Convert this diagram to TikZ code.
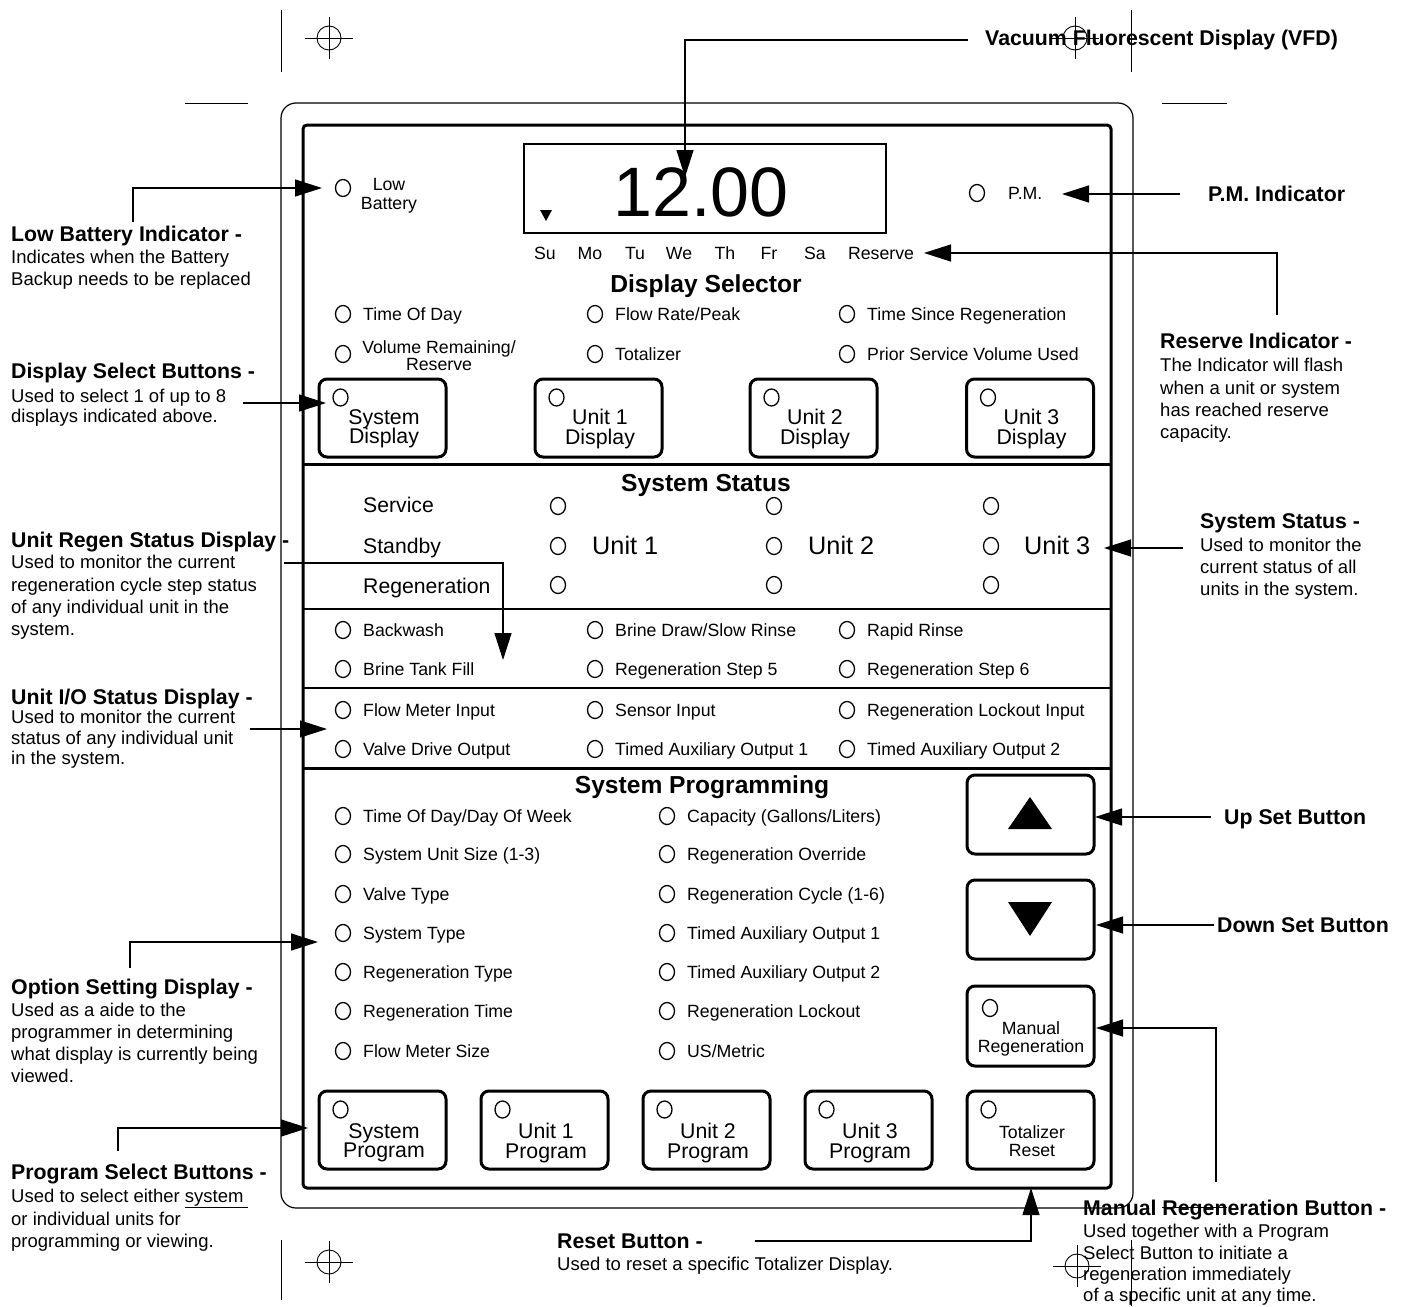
\documentclass[tikz,border=0pt]{standalone}
\usepackage{fontspec}
\setmainfont{Liberation Sans}
\usetikzlibrary{arrows.meta,shapes.geometric}
\newcommand\fsz[2]{\fontsize{#1pt}{#2pt}\selectfont}
\newcommand\pitem[4]{\node[led] (#1) at (#2,#3) {}; \node[ptxt] (#1t) at (#2+20,#3) {#4};}
\newcommand\pbtn[6]{% name, cx, cy, text top, text, text style
  \node[btn] (#1) at (#2,#3) {};
  \node[led] (#1l) at ([xshift=23pt,yshift=-20pt]#1.north west) {};
  \node[#6] (#1t) at (#2+1.5,#4) {#5};}
\lineskiplimit=-100pt
\begin{document}
\begin{tikzpicture}[x=1pt,y=-1pt,
  every node/.style={inner sep=0pt},
  led/.style={draw,ellipse,minimum width=15pt,minimum height=17pt,line width=1.3pt},
  ptxt/.style={font=\fsz{17.7}{21},anchor=west,text height=12.7pt,text depth=0pt},
  ctxt/.style={font=\fsz{17.7}{21},text height=12.7pt,text depth=0pt},
  sec/.style={font=\bfseries\fsz{24.6}{28},text height=17.6pt,text depth=0pt},
  stl/.style={font=\fsz{21.2}{24},anchor=west,text height=15.2pt,text depth=0pt},
  unit/.style={font=\fsz{25.3}{28},anchor=west,text height=18.1pt,text depth=0pt},
  btn/.style={draw,line width=3pt,rounded corners=8pt,minimum width=127pt,minimum height=78pt},
  btxt/.style={font=\fsz{21.3}{19.5},anchor=north,align=center},
  stxt/.style={font=\fsz{17.7}{18},anchor=north,align=center},
  hd/.style={font=\bfseries\fsz{21.3}{24},anchor=west,text height=15.3pt,text depth=0pt},
  ds/.style={font=\fsz{18.5}{22},anchor=north west,align=left},
  conn/.style={line width=1.3pt,-{Triangle[length=27pt,width=17pt]}},
  crop/.style={line width=0.9pt},
]
\useasboundingbox (0,0) rectangle (1404,1306);
\fill[white] (0,0) rectangle (1404,1306);

% outer case and panel
\draw[line width=1.2pt,rounded corners=15pt] (281,103) rectangle (1133,1208);
\draw[line width=3pt,rounded corners=4pt] (303,125) rectangle (1111,1188);
\draw[line width=3pt] (303,464) -- (1111,464);
\draw[line width=1.5pt] (303,609) -- (1111,609);
\draw[line width=1.5pt] (303,688) -- (1111,688);
\draw[line width=3pt] (303,768) -- (1111,768);

% VFD
\node[draw,line width=2pt,minimum width=362pt,minimum height=89pt] (vfd) at (705,188.5) {};
\node[font=\fsz{70}{70},text height=50pt,text depth=0pt] (digits) at (701,191) {12.00};
\fill (540,210) -- (552,210) -- (546,221) -- cycle;
\node[led] (lb) at (343,188) {};
\node[stxt,font=\fsz{17.7}{19}] (lbt) at (389,178.5) {Low\\Battery};
\node[led] (pm) at (977,193) {};
\node[ptxt] (pmt) at (1008,193) {P.M.};
\foreach \d/\x [count=\i] in {Su/545,Mo/590,Tu/635,We/679,Th/725,Fr/769,Sa/815,Reserve/881}
  \node[ctxt] (day\i) at (\x,253) {\d};

% Display selector
\node[sec] (dsel) at (706,284) {Display Selector};
\pitem{tod}{343}{314}{Time Of Day}
\pitem{frp}{595}{314}{Flow Rate/Peak}
\pitem{tsr}{847}{314}{Time Since Regeneration}
\node[led] (vrr) at (343,354) {};
\node[stxt,font=\fsz{17.7}{17}] (vrrt) at (439,340.5) {Volume Remaining/\\Reserve};
\pitem{tot}{595}{354}{Totalizer}
\pitem{psv}{847}{354}{Prior Service Volume Used}
\pbtn{bsd}{382.5}{418}{409.1}{System\\Display}{btxt}
\pbtn{bu1d}{598.5}{418}{409.1}{Unit 1\\Display}{btxt}
\pbtn{bu2d}{813.5}{418}{409.1}{Unit 2\\Display}{btxt}
\pbtn{bu3d}{1030}{418}{409.1}{Unit 3\\Display}{btxt}

% System status
\node[sec] (sstat) at (706,483) {System Status};
\node[stl] (svc) at (363,505) {Service};
\node[stl] (stb) at (363,546) {Standby};
\node[stl] (rgn) at (363,586) {Regeneration};
\foreach \x [count=\u] in {558,774,991}{
  \node[led] (sv\u) at (\x,506) {};
  \node[led] (sb\u) at (\x,546) {};
  \node[led] (rg\u) at (\x,585) {};
}
\node[unit] (un1) at (592,545) {Unit 1};
\node[unit] (un2) at (808,545) {Unit 2};
\node[unit] (un3) at (1024,545) {Unit 3};
\pitem{bw}{343}{630}{Backwash}
\pitem{bd}{595}{630}{Brine Draw/Slow Rinse}
\pitem{rr}{847}{630}{Rapid Rinse}
\pitem{btf}{343}{669}{Brine Tank Fill}
\pitem{rs5}{595}{669}{Regeneration Step 5}
\pitem{rs6}{847}{669}{Regeneration Step 6}
\pitem{fmi}{343}{710}{Flow Meter Input}
\pitem{si}{595}{710}{Sensor Input}
\pitem{rli}{847}{710}{Regeneration Lockout Input}
\pitem{vdo}{343}{749}{Valve Drive Output}
\pitem{ta1}{595}{749}{Timed Auxiliary Output 1}
\pitem{ta2}{847}{749}{Timed Auxiliary Output 2}

% System programming
\node[sec] (sprog) at (702,785) {System Programming};
\pitem{p1}{343}{816}{Time Of Day/Day Of Week}
\pitem{p2}{343}{854}{System Unit Size (1-3)}
\pitem{p3}{343}{894}{Valve Type}
\pitem{p4}{343}{933}{System Type}
\pitem{p5}{343}{972}{Regeneration Type}
\pitem{p6}{343}{1011}{Regeneration Time}
\pitem{p7}{343}{1051}{Flow Meter Size}
\pitem{q1}{667}{816}{Capacity (Gallons/Liters)}
\pitem{q2}{667}{854}{Regeneration Override}
\pitem{q3}{667}{894}{Regeneration Cycle (1-6)}
\pitem{q4}{667}{933}{Timed Auxiliary Output 1}
\pitem{q5}{667}{972}{Timed Auxiliary Output 2}
\pitem{q6}{667}{1011}{Regeneration Lockout}
\pitem{q7}{667}{1051}{US/Metric}
\node[btn,minimum height=79pt] (up) at (1030.5,814.5) {};
\fill (1030,797) -- (1052,829) -- (1008,829) -- cycle;
\node[btn,minimum height=79pt] (down) at (1030.5,919.5) {};
\fill (1008,902) -- (1052,902) -- (1030,936) -- cycle;
\node[btn,minimum height=80pt] (man) at (1030.5,1026) {};
\node[led] (manl) at (990,1008) {};
\node[stxt] (mant) at (1031,1021.5) {Manual\\Regeneration};
\pbtn{bsp}{382.5}{1130}{1123.1}{System\\Program}{btxt}
\pbtn{bu1p}{544.5}{1130}{1123.1}{Unit 1\\Program}{btxt}
\pbtn{bu2p}{706.5}{1130}{1123.1}{Unit 2\\Program}{btxt}
\pbtn{bu3p}{868.5}{1130}{1123.1}{Unit 3\\Program}{btxt}
\pbtn{btr}{1030.5}{1130}{1125.3}{Totalizer\\Reset}{stxt}

% left annotations
\node[hd] (h1) at (11,234) {Low Battery Indicator -};
\node[ds] (d1) at (11,250.2) {Indicates when the Battery\\Backup needs to be replaced};
\node[hd] (h2) at (11,371) {Display Select Buttons -};
\node[ds,font=\fsz{18.5}{20}] (d2) at (11,389.2) {Used to select 1 of up to 8\\displays indicated above.};
\node[hd] (h3) at (11,540) {Unit Regen Status Display -};
\node[ds,font=\fsz{18.5}{22.3}] (d3) at (11,555.2) {Used to monitor the current\\regeneration cycle step status\\of any individual unit in the\\system.};
\node[hd] (h4) at (11,697) {Unit I/O Status Display -};
\node[ds,font=\fsz{18.5}{20.5}] (d4) at (11,710.2) {Used to monitor the current\\status of any individual unit\\in the system.};
\node[hd] (h5) at (11,987) {Option Setting Display -};
\node[ds] (d5) at (11,1003.2) {Used as a aide to the\\programmer in determining\\what display is currently being\\viewed.};
\node[hd] (h6) at (11,1172) {Program Select Buttons -};
\node[ds,font=\fsz{18.5}{22.5}] (d6) at (11,1189.2) {Used to select either system\\or individual units for\\programming or viewing.};

% right annotations
\node[hd] (h7) at (985,38) {Vacuum Fluorescent Display (VFD)};
\node[hd] (h8) at (1208,194) {P.M. Indicator};
\node[hd] (h9) at (1160,341) {Reserve Indicator -};
\node[ds,font=\fsz{18.5}{22.3}] (d9) at (1160,358.2) {The Indicator will flash\\when a unit or system\\has reached reserve\\capacity.};
\node[hd] (h10) at (1200,521) {System Status -};
\node[ds] (d10) at (1200,538.2) {Used to monitor the\\current status of all\\units in the system.};
\node[hd] (h11) at (1224,817) {Up Set Button};
\node[hd] (h12) at (1217,925) {Down Set Button};
\node[hd] (h13) at (1083,1208) {Manual Regeneration Button -};
\node[ds,font=\fsz{18.5}{21.3}] (d13) at (1083,1224.2) {Used together with a Program\\Select Button to initiate a\\regeneration immediately\\of a specific unit at any time.};
\node[hd] (h14) at (557,1241) {Reset Button -};
\node[ds] (d14) at (557,1257.2) {Used to reset a specific Totalizer Display.};

% connector end points
\coordinate (a1) at (133,222);  \coordinate (t1) at (322,188);
\coordinate (a2) at (243,403);  \coordinate (t2) at (326,403);
\coordinate (a3) at (284,563);  \coordinate (t3) at (503,660);
\coordinate (a4) at (250,729);  \coordinate (t4) at (327,729);
\coordinate (a5) at (130,968);  \coordinate (t5) at (318,942);
\coordinate (a6) at (118,1151); \coordinate (t6) at (308,1128);
\coordinate (a7) at (968,40);   \coordinate (t7) at (685,177);
\coordinate (a8) at (1180,194); \coordinate (t8) at (1062,194);
\coordinate (a9) at (1277,315); \coordinate (t9) at (924,253);
\coordinate (a10) at (1183,548); \coordinate (t10) at (1104,548);
\coordinate (a11) at (1211,817); \coordinate (t11) at (1095,817);
\coordinate (a12) at (1214,925); \coordinate (t12) at (1096,925);
\coordinate (a13) at (1216,1182); \coordinate (t13) at (1096,1028);
\coordinate (a14) at (755,1241); \coordinate (t14) at (1031,1188);

\draw[conn] (a1) |- (t1);
\draw[conn] (a2) -- (t2);
\draw[conn] (a3) -| (t3);
\draw[conn] (a4) -- (t4);
\draw[conn] (a5) |- (t5);
\draw[conn] (a6) |- (t6);
\draw[conn] (a7) -| (t7);
\draw[conn] (a8) -- (t8);
\draw[conn] (a9) |- (t9);
\draw[conn] (a10) -- (t10);
\draw[conn] (a11) -- (t11);
\draw[conn] (a12) -- (t12);
\draw[conn] (a13) |- (t13);
\draw[conn] (a14) -| (t14);

% crop marks
\draw[crop] (281,10) -- (281,72);
\draw[crop] (1131,10) -- (1131,72);
\draw[crop] (185,103) -- (248,103);
\draw[crop] (1162,103) -- (1227,103);
\draw[crop] (185,1207) -- (248,1207);
\draw[crop] (1162,1207) -- (1227,1207);
\draw[crop] (281,1240) -- (281,1300);
\draw[crop] (1131,1240) -- (1131,1306);
\foreach \cx/\cy in {329/38,1075/38,329/1262,1077/1266}{
  \draw[crop] (\cx,\cy) circle[radius=12pt];
  \draw[crop] (\cx-24,\cy) -- (\cx+24,\cy);
  \draw[crop] (\cx,\cy-21) -- (\cx,\cy+21);
}
\end{tikzpicture}
\end{document}
